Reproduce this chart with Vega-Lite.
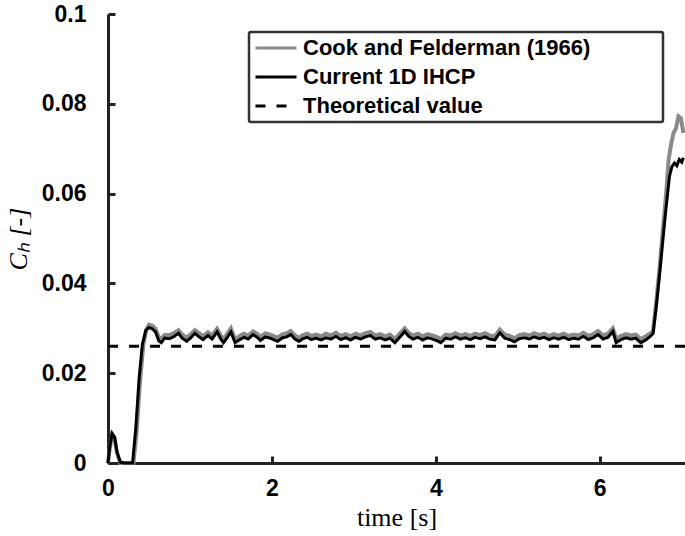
{
  "$schema": "https://vega.github.io/schema/vega-lite/v6.json",
  "width": 577,
  "height": 449,
  "autosize": "none",
  "padding": {"left": 108, "top": 14, "right": 0, "bottom": 73},
  "background": "white",
  "config": {"view": {"stroke": null}},
  "datasets": {
    "ihcp": [
      {"t":0,"CH":0},{"t":0.02,"CH":0.0035},{"t":0.05,"CH":0.0066},{"t":0.08,"CH":0.0058},{"t":0.11,"CH":0.0025},{"t":0.15,"CH":0.0002},{"t":0.2,"CH":0},{"t":0.3,"CH":0},{"t":0.34,"CH":0.008},{"t":0.38,"CH":0.019},{"t":0.42,"CH":0.0265},{"t":0.46,"CH":0.0295},{"t":0.5,"CH":0.0302},{"t":0.54,"CH":0.0299},{"t":0.58,"CH":0.0292},{"t":0.62,"CH":0.0272},{"t":0.65,"CH":0.0268},{"t":0.69,"CH":0.0278},{"t":0.75,"CH":0.0277},{"t":0.8,"CH":0.0281},{"t":0.86,"CH":0.0289},{"t":0.9,"CH":0.0279},{"t":0.96,"CH":0.0271},{"t":1.01,"CH":0.0279},{"t":1.06,"CH":0.0289},{"t":1.11,"CH":0.0281},{"t":1.16,"CH":0.0275},{"t":1.22,"CH":0.0284},{"t":1.27,"CH":0.0276},{"t":1.33,"CH":0.0292},{"t":1.38,"CH":0.0275},{"t":1.41,"CH":0.0268},{"t":1.46,"CH":0.0281},{"t":1.5,"CH":0.0292},{"t":1.55,"CH":0.0268},{"t":1.6,"CH":0.0274},{"t":1.66,"CH":0.028},{"t":1.71,"CH":0.0276},{"t":1.77,"CH":0.0286},{"t":1.82,"CH":0.028},{"t":1.86,"CH":0.0273},{"t":1.92,"CH":0.0281},{"t":1.98,"CH":0.0278},{"t":2.03,"CH":0.0274},{"t":2.07,"CH":0.0271},{"t":2.13,"CH":0.0279},{"t":2.18,"CH":0.0281},{"t":2.23,"CH":0.0286},{"t":2.28,"CH":0.0276},{"t":2.33,"CH":0.0271},{"t":2.38,"CH":0.0277},{"t":2.43,"CH":0.028},{"t":2.48,"CH":0.0275},{"t":2.54,"CH":0.0278},{"t":2.6,"CH":0.0274},{"t":2.66,"CH":0.0279},{"t":2.72,"CH":0.0276},{"t":2.78,"CH":0.0282},{"t":2.84,"CH":0.0275},{"t":2.9,"CH":0.0279},{"t":2.96,"CH":0.0274},{"t":3.02,"CH":0.028},{"t":3.08,"CH":0.0276},{"t":3.14,"CH":0.0281},{"t":3.2,"CH":0.0284},{"t":3.26,"CH":0.0276},{"t":3.32,"CH":0.0279},{"t":3.38,"CH":0.0274},{"t":3.44,"CH":0.0278},{"t":3.5,"CH":0.0268},{"t":3.56,"CH":0.028},{"t":3.62,"CH":0.0293},{"t":3.67,"CH":0.0282},{"t":3.72,"CH":0.0276},{"t":3.78,"CH":0.028},{"t":3.84,"CH":0.0274},{"t":3.9,"CH":0.0279},{"t":3.96,"CH":0.0276},{"t":4.02,"CH":0.0272},{"t":4.06,"CH":0.0268},{"t":4.12,"CH":0.0278},{"t":4.18,"CH":0.0276},{"t":4.24,"CH":0.0281},{"t":4.3,"CH":0.0276},{"t":4.36,"CH":0.0279},{"t":4.42,"CH":0.0275},{"t":4.48,"CH":0.028},{"t":4.54,"CH":0.0277},{"t":4.6,"CH":0.0281},{"t":4.66,"CH":0.0276},{"t":4.72,"CH":0.0274},{"t":4.78,"CH":0.029},{"t":4.84,"CH":0.0278},{"t":4.9,"CH":0.0275},{"t":4.96,"CH":0.027},{"t":5.02,"CH":0.0277},{"t":5.08,"CH":0.0279},{"t":5.14,"CH":0.0276},{"t":5.2,"CH":0.0281},{"t":5.26,"CH":0.0277},{"t":5.32,"CH":0.028},{"t":5.38,"CH":0.0275},{"t":5.44,"CH":0.0279},{"t":5.5,"CH":0.0276},{"t":5.56,"CH":0.028},{"t":5.62,"CH":0.0275},{"t":5.68,"CH":0.0278},{"t":5.74,"CH":0.0276},{"t":5.8,"CH":0.0282},{"t":5.86,"CH":0.0275},{"t":5.92,"CH":0.0279},{"t":5.98,"CH":0.0286},{"t":6.04,"CH":0.0276},{"t":6.1,"CH":0.028},{"t":6.16,"CH":0.0293},{"t":6.2,"CH":0.0268},{"t":6.26,"CH":0.0275},{"t":6.32,"CH":0.0279},{"t":6.38,"CH":0.0276},{"t":6.44,"CH":0.0278},{"t":6.5,"CH":0.0268},{"t":6.56,"CH":0.0274},{"t":6.61,"CH":0.0281},{"t":6.65,"CH":0.0288},{"t":6.69,"CH":0.0349},{"t":6.73,"CH":0.042},{"t":6.77,"CH":0.0497},{"t":6.81,"CH":0.057},{"t":6.85,"CH":0.0638},{"t":6.88,"CH":0.066},{"t":6.91,"CH":0.0668},{"t":6.94,"CH":0.0662},{"t":6.97,"CH":0.0676},{"t":7.0,"CH":0.067},{"t":7.02,"CH":0.068}
    ],
    "cook": [
      {"t":0,"CH":0},{"t":0.02,"CH":0.003},{"t":0.05,"CH":0.0062},{"t":0.08,"CH":0.0055},{"t":0.11,"CH":0.0022},{"t":0.15,"CH":0},{"t":0.31,"CH":0},{"t":0.35,"CH":0.007},{"t":0.39,"CH":0.018},{"t":0.43,"CH":0.0262},{"t":0.47,"CH":0.0298},{"t":0.5,"CH":0.0308},{"t":0.54,"CH":0.0306},{"t":0.58,"CH":0.0299},{"t":0.62,"CH":0.028},{"t":0.65,"CH":0.0276},{"t":0.69,"CH":0.0285},{"t":0.75,"CH":0.0285},{"t":0.8,"CH":0.0289},{"t":0.86,"CH":0.0296},{"t":0.9,"CH":0.0287},{"t":0.96,"CH":0.0279},{"t":1.01,"CH":0.0287},{"t":1.06,"CH":0.0296},{"t":1.11,"CH":0.0289},{"t":1.16,"CH":0.0283},{"t":1.22,"CH":0.0291},{"t":1.27,"CH":0.0284},{"t":1.33,"CH":0.0299},{"t":1.38,"CH":0.0283},{"t":1.41,"CH":0.0276},{"t":1.46,"CH":0.0289},{"t":1.5,"CH":0.03},{"t":1.55,"CH":0.0276},{"t":1.6,"CH":0.0282},{"t":1.66,"CH":0.0288},{"t":1.71,"CH":0.0284},{"t":1.77,"CH":0.0293},{"t":1.82,"CH":0.0288},{"t":1.86,"CH":0.0281},{"t":1.92,"CH":0.0289},{"t":1.98,"CH":0.0286},{"t":2.03,"CH":0.0282},{"t":2.07,"CH":0.0279},{"t":2.13,"CH":0.0287},{"t":2.18,"CH":0.0289},{"t":2.23,"CH":0.0294},{"t":2.28,"CH":0.0284},{"t":2.33,"CH":0.0279},{"t":2.38,"CH":0.0285},{"t":2.43,"CH":0.0288},{"t":2.48,"CH":0.0283},{"t":2.54,"CH":0.0286},{"t":2.6,"CH":0.0282},{"t":2.66,"CH":0.0288},{"t":2.72,"CH":0.0284},{"t":2.78,"CH":0.029},{"t":2.84,"CH":0.0283},{"t":2.9,"CH":0.0287},{"t":2.96,"CH":0.0282},{"t":3.02,"CH":0.0288},{"t":3.08,"CH":0.0284},{"t":3.14,"CH":0.0289},{"t":3.2,"CH":0.0292},{"t":3.26,"CH":0.0284},{"t":3.32,"CH":0.0287},{"t":3.38,"CH":0.0282},{"t":3.44,"CH":0.0286},{"t":3.5,"CH":0.0276},{"t":3.56,"CH":0.0288},{"t":3.62,"CH":0.03},{"t":3.67,"CH":0.029},{"t":3.72,"CH":0.0284},{"t":3.78,"CH":0.0288},{"t":3.84,"CH":0.0282},{"t":3.9,"CH":0.0287},{"t":3.96,"CH":0.0284},{"t":4.02,"CH":0.028},{"t":4.06,"CH":0.0276},{"t":4.12,"CH":0.0286},{"t":4.18,"CH":0.0284},{"t":4.24,"CH":0.0289},{"t":4.3,"CH":0.0284},{"t":4.36,"CH":0.0287},{"t":4.42,"CH":0.0283},{"t":4.48,"CH":0.0288},{"t":4.54,"CH":0.0285},{"t":4.6,"CH":0.0289},{"t":4.66,"CH":0.0284},{"t":4.72,"CH":0.0282},{"t":4.78,"CH":0.0297},{"t":4.84,"CH":0.0286},{"t":4.9,"CH":0.0283},{"t":4.96,"CH":0.0278},{"t":5.02,"CH":0.0285},{"t":5.08,"CH":0.0287},{"t":5.14,"CH":0.0284},{"t":5.2,"CH":0.0289},{"t":5.26,"CH":0.0285},{"t":5.32,"CH":0.0288},{"t":5.38,"CH":0.0283},{"t":5.44,"CH":0.0287},{"t":5.5,"CH":0.0284},{"t":5.56,"CH":0.0288},{"t":5.62,"CH":0.0283},{"t":5.68,"CH":0.0286},{"t":5.74,"CH":0.0284},{"t":5.8,"CH":0.029},{"t":5.86,"CH":0.0283},{"t":5.92,"CH":0.0287},{"t":5.98,"CH":0.0294},{"t":6.04,"CH":0.0284},{"t":6.1,"CH":0.0288},{"t":6.16,"CH":0.03},{"t":6.2,"CH":0.0277},{"t":6.26,"CH":0.0283},{"t":6.32,"CH":0.0287},{"t":6.38,"CH":0.0284},{"t":6.44,"CH":0.0286},{"t":6.5,"CH":0.0276},{"t":6.56,"CH":0.0282},{"t":6.61,"CH":0.0288},{"t":6.65,"CH":0.0293},{"t":6.69,"CH":0.036},{"t":6.73,"CH":0.0435},{"t":6.77,"CH":0.052},{"t":6.81,"CH":0.06},{"t":6.84,"CH":0.0675},{"t":6.87,"CH":0.071},{"t":6.9,"CH":0.0735},{"t":6.93,"CH":0.0745},{"t":6.96,"CH":0.0772},{"t":6.99,"CH":0.0768},{"t":7.02,"CH":0.0735}
    ],
    "theo": [
      {"t":0,"CH":0.026},{"t":7.04,"CH":0.026}
    ]
  },
  "encoding": {
    "x": {
      "field": "t", "type": "quantitative",
      "scale": {"domain": [0, 7.04], "nice": false},
      "axis": {
        "values": [0, 2, 4, 6], "title": "time [s]", "grid": false, "labelFlush": false,
        "domainColor": "#222", "domainWidth": 3, "tickColor": "#222", "tickWidth": 3, "tickSize": -7,
        "labelFont": "Liberation Sans", "labelFontWeight": "bold", "labelFontSize": 23, "labelColor": "#000", "labelPadding": 21,
        "titleFont": "Liberation Serif", "titleFontWeight": "normal", "titleFontSize": 26, "titleColor": "#000", "titlePadding": 4
      }
    },
    "y": {
      "field": "CH", "type": "quantitative",
      "scale": {"domain": [0, 0.1], "nice": false},
      "axis": {
        "values": [0, 0.02, 0.04, 0.06, 0.08, 0.1], "format": "~g", "title": "Cₕ  [-]", "grid": false, "labelFlush": false,
        "domainColor": "#222", "domainWidth": 3, "tickColor": "#222", "tickWidth": 3, "tickSize": -7,
        "labelFont": "Liberation Sans", "labelFontWeight": "bold", "labelFontSize": 23, "labelColor": "#000", "labelPadding": 29,
        "titleFont": "Liberation Serif", "titleFontWeight": "normal", "titleFontStyle": "italic", "titleFontSize": 26, "titleColor": "#000", "titlePadding": 10
      }
    },
    "color": {
      "field": "s", "type": "nominal",
      "scale": {"domain": ["cook", "ihcp", "theo"], "range": ["#8a8a8a", "#000000", "#000000"]},
      "legend": {
        "title": null, "orient": "none", "legendX": 141, "legendY": 18,
        "symbolType": "stroke", "symbolSize": 1681, "symbolStrokeWidth": 3, "clipHeight": 22,
        "rowPadding": 7, "padding": 5, "labelOffset": 5, "labelLimit": 500,
        "labelFont": "Liberation Sans", "labelFontWeight": "bold", "labelFontSize": 22, "labelColor": "#000",
        "labelExpr": "datum.value === 'cook' ? 'Cook and Felderman (1966)\u00a0\u00a0\u00a0\u00a0\u00a0\u00a0\u00a0\u00a0\u00a0\u00a0\u00a0\u200b' : datum.value === 'ihcp' ? 'Current 1D IHCP' : 'Theoretical value'",
        "strokeColor": "#333", "cornerRadius": 2, "fillColor": "white",
        "encode": {"legend": {"update": {"strokeWidth": {"value": 2.5}}}}
      }
    },
    "strokeDash": {
      "field": "s", "type": "nominal",
      "scale": {"domain": ["cook", "ihcp", "theo"], "range": [[1, 0], [1, 0], [10, 11]]},
      "legend": null
    }
  },
  "layer": [
    {"data": {"name": "theo"}, "transform": [{"calculate": "'theo'", "as": "s"}], "mark": {"type": "line", "strokeWidth": 3}},
    {"data": {"name": "cook"}, "transform": [{"calculate": "'cook'", "as": "s"}], "mark": {"type": "line", "strokeWidth": 4}},
    {"data": {"name": "ihcp"}, "transform": [{"calculate": "'ihcp'", "as": "s"}], "mark": {"type": "line", "strokeWidth": 3}}
  ]
}
